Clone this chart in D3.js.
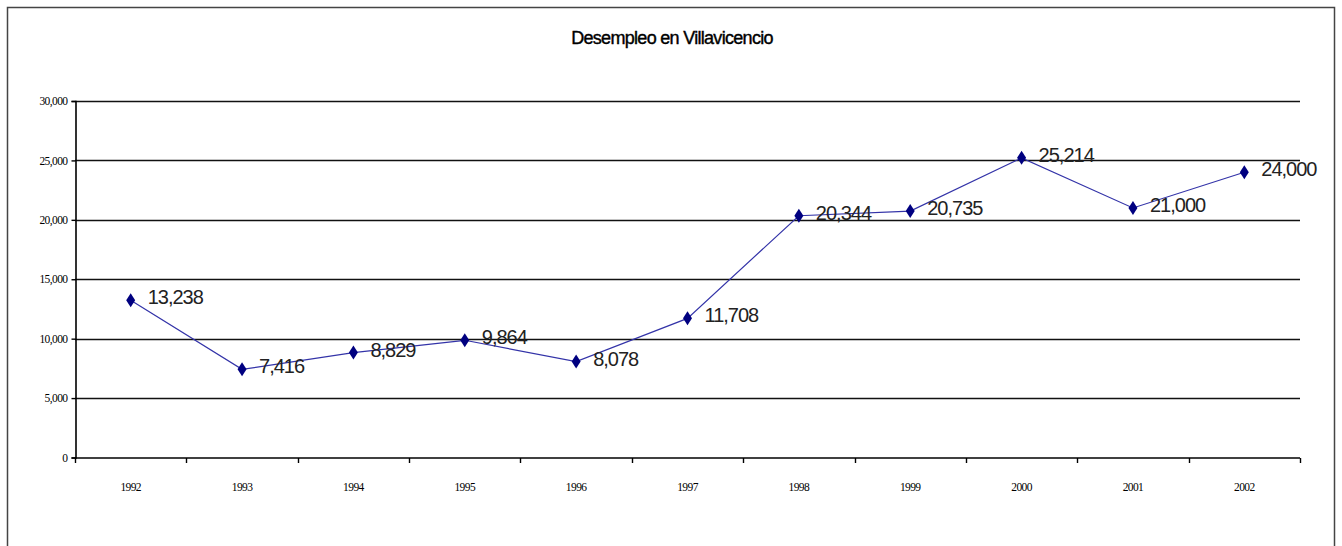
<!DOCTYPE html>
<html>
<head>
<meta charset="utf-8">
<script src="https://cdn.jsdelivr.net/npm/d3@7"></script>
<style>
  body { margin: 0; background: #fff; }
  svg { display: block; }
</style>
</head>
<body>
<script>
// data
var years = ["1992", "1993", "1994", "1995", "1996", "1997", "1998", "1999", "2000", "2001", "2002"];
var desempleo = [13238, 7416, 8829, 9864, 8078, 11708, 20344, 20735, 25214, 21000, 24000];
var yTicks = [0, 5000, 10000, 15000, 20000, 25000, 30000];

var W = 1342, H = 546;
var plotLeft = 75, plotRight = 1300, plotTop = 101, plotBottom = 457.5;

var svg = d3.select("body").append("svg")
    .attr("width", W)
    .attr("height", H);

// outer frame
svg.append("rect")
    .attr("x", 7.5).attr("y", 7.5)
    .attr("width", 1327).attr("height", 560)
    .attr("fill", "none")
    .attr("stroke", "#444")
    .attr("stroke-width", 1.5);

svg.append("text")
    .attr("x", 672)
    .attr("y", 44)
    .attr("text-anchor", "middle")
    .attr("font-family", "Liberation Sans, Arial, sans-serif")
    .attr("font-size", "18px")
    .attr("letter-spacing", "-0.7px")
    .attr("stroke", "#000")
    .attr("stroke-width", 0.4)
    .attr("fill", "#000")
    .text("Desempleo en Villavicencio");

var x = d3.scaleBand()
    .domain(years)
    .range([plotLeft, plotRight]);

var y = d3.scaleLinear()
    .domain([0, 30000])
    .range([plotBottom, plotTop]);

// gridlines
svg.append("g")
    .selectAll("line")
    .data(yTicks.filter(function(d) { return d > 0; }))
    .enter().append("line")
    .attr("x1", plotLeft).attr("x2", plotRight)
    .attr("y1", function(d) { return Math.round(y(d)) + 0.5; })
    .attr("y2", function(d) { return Math.round(y(d)) + 0.5; })
    .attr("stroke", "#111")
    .attr("stroke-width", 1.5);

// y axis
var yAxis = svg.append("g")
    .attr("transform", "translate(" + (plotLeft + 0.5) + ",0)")
    .call(d3.axisLeft(y).tickValues(yTicks).tickSize(4).tickFormat(d3.format(",")));
yAxis.select(".domain").attr("stroke", "#000").attr("stroke-width", 1.6);
yAxis.selectAll(".tick line").attr("stroke", "#000").attr("stroke-width", 1.4);
yAxis.selectAll(".tick text")
    .attr("x", -8)
    .attr("font-family", "Liberation Serif, Times New Roman, serif")
    .attr("font-size", "11.5px")
    .attr("letter-spacing", "-0.6px")
    .attr("fill", "#000");

// x axis, ticks between categories
var xAxisG = svg.append("g")
    .attr("transform", "translate(0," + (plotBottom + 0.5) + ")");
xAxisG.append("line")
    .attr("x1", plotLeft).attr("x2", plotRight)
    .attr("stroke", "#000").attr("stroke-width", 1.6);
var bounds = years.map(function(d) { return x(d); }).concat([plotRight]);
xAxisG.selectAll(".xt")
    .data(bounds)
    .enter().append("line")
    .attr("class", "xt")
    .attr("x1", function(d) { return Math.round(d) + 0.5; })
    .attr("x2", function(d) { return Math.round(d) + 0.5; })
    .attr("y1", 0).attr("y2", 5)
    .attr("stroke", "#000").attr("stroke-width", 1.4);
xAxisG.selectAll(".xl")
    .data(years)
    .enter().append("text")
    .attr("class", "xl")
    .attr("x", function(d) { return x(d) + x.bandwidth() / 2; })
    .attr("y", 33)
    .attr("text-anchor", "middle")
    .attr("font-family", "Liberation Serif, Times New Roman, serif")
    .attr("font-size", "11.5px")
    .attr("letter-spacing", "-0.6px")
    .attr("fill", "#000")
    .text(function(d) { return d; });

var pts = years.map(function(d, i) { return { year: d, value: desempleo[i] }; });
var cx = function(d) { return x(d.year) + x.bandwidth() / 2; };

svg.append("path")
    .datum(pts)
    .attr("fill", "none")
    .attr("stroke", "#3333a8")
    .attr("stroke-width", 1.2)
    .attr("d", d3.line().x(cx).y(function(d) { return y(d.value); }));

svg.selectAll(".mk")
    .data(pts)
    .enter().append("path")
    .attr("class", "mk")
    .attr("transform", function(d) { return "translate(" + cx(d) + "," + y(d.value) + ")"; })
    .attr("d", "M0,-7L4.5,0L0,7L-4.5,0Z")
    .attr("fill", "#000080");

svg.selectAll(".lbl")
    .data(pts)
    .enter().append("text")
    .attr("class", "lbl")
    .attr("x", function(d) { return cx(d) + 17; })
    .attr("y", function(d) { return y(d.value) + 4; })
    .attr("font-family", "Liberation Sans, Arial, sans-serif")
    .attr("font-size", "20px")
    .attr("letter-spacing", "-1px")
    .attr("fill", "#222")
    .text(function(d) { return d3.format(",")(d.value); });
</script>
</body>
</html>
